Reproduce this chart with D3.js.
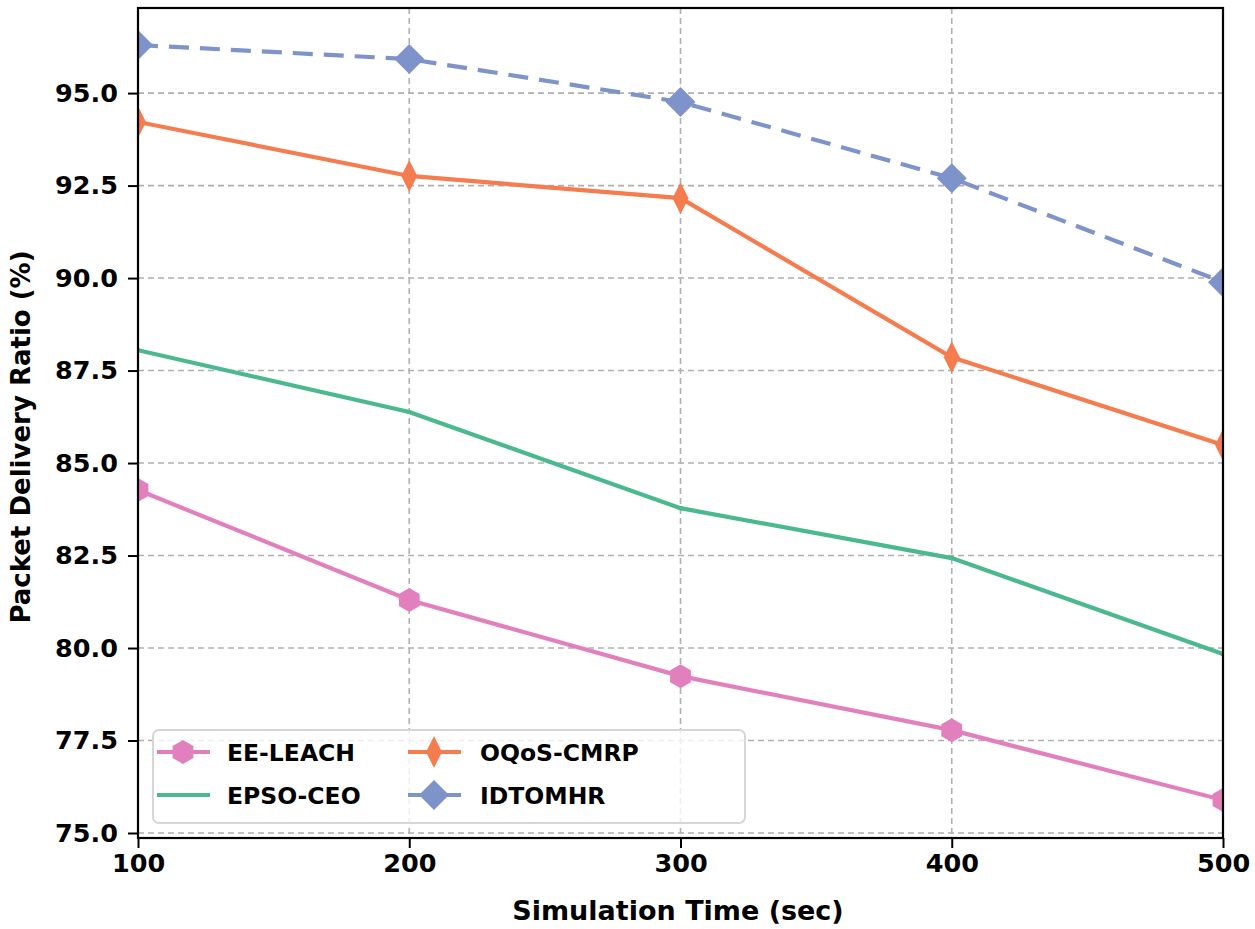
<!DOCTYPE html>
<html><head><meta charset="utf-8">
<script src="https://cdn.jsdelivr.net/npm/d3@7"></script>
<style>body{margin:0;background:#fff;}svg{display:block;font-family:"DejaVu Sans",sans-serif;font-weight:bold;}</style>
</head><body><svg id="c" width="1255" height="929"></svg>
<script>
const xValues = [100, 200, 300, 400, 500];
const eeLeach = [84.27, 81.30, 79.24, 77.78, 75.89];
const epsoCeo = [88.05, 86.38, 83.78, 82.43, 79.84];
const oqosCmrp = [94.22, 92.76, 92.16, 87.86, 85.49];
const idtomhr = [96.30, 95.92, 94.76, 92.70, 89.89];
const xTicks = [100, 200, 300, 400, 500];
const yTicks = [75.0, 77.5, 80.0, 82.5, 85.0, 87.5, 90.0, 92.5, 95.0];
const seriesNames = ["EE-LEACH", "EPSO-CEO", "OQoS-CMRP", "IDTOMHR"];

const series = [
  {name: seriesNames[0], vals: eeLeach, color: "#e280bd", marker: "hex", dash: null},
  {name: seriesNames[1], vals: epsoCeo, color: "#4bb98f", marker: "pixel", dash: null},
  {name: seriesNames[2], vals: oqosCmrp, color: "#f47c4e", marker: "thin", dash: null},
  {name: seriesNames[3], vals: idtomhr, color: "#7d93c9", marker: "diamond", dash: "20,11"}
];

const L = 138, R = 1223, T = 8, B = 838;
const svg = d3.select("#c");
const x = d3.scaleLinear().domain([100, 500]).range([L, R]);
const y = d3.scaleLinear().domain([74.865, 97.30]).range([B, T]);

// grid
const g = svg.append("g");
g.selectAll(".gx").data(xTicks).join("line")
  .attr("x1", d => x(d)).attr("x2", d => x(d)).attr("y1", T).attr("y2", B)
  .attr("stroke", "#b0b0b0").attr("stroke-width", 1.6).attr("stroke-dasharray", "6,4");
g.selectAll(".gy").data(yTicks).join("line")
  .attr("y1", d => y(d)).attr("y2", d => y(d)).attr("x1", L).attr("x2", R)
  .attr("stroke", "#b0b0b0").attr("stroke-width", 1.6).attr("stroke-dasharray", "6,4");

svg.append("clipPath").attr("id", "clip").append("rect")
  .attr("x", L).attr("y", T).attr("width", R - L).attr("height", B - T);

function markerPath(type) {
  if (type === "hex") {
    const r = 12, pts = [];
    for (let i = 0; i < 6; i++) { const a = Math.PI / 2 + i * Math.PI / 3; pts.push([r * Math.cos(a), r * Math.sin(a)]); }
    return "M" + pts.map(p => p.join(",")).join("L") + "Z";
  }
  if (type === "thin") return "M0,-16L8,0L0,16L-8,0Z";
  if (type === "diamond") return "M0,-15L15,0L0,15L-15,0Z";
  if (type === "pixel") return "M-2,-2L2,-2L2,2L-2,2Z";
  return "";
}

const plot = svg.append("g").attr("clip-path", "url(#clip)");
const line = d3.line().x((d, i) => x(xValues[i])).y(d => y(d));
series.forEach(s => {
  plot.append("path").attr("d", line(s.vals)).attr("fill", "none")
    .attr("stroke", s.color).attr("stroke-width", 4.2)
    .attr("stroke-dasharray", s.dash);
  plot.selectAll(null).data(s.vals).join("path")
    .attr("transform", (d, i) => `translate(${x(xValues[i])},${y(d)})`)
    .attr("d", markerPath(s.marker)).attr("fill", s.color);
});

// axes
const xAxis = svg.append("g").attr("transform", `translate(0,${B})`)
  .call(d3.axisBottom(x).tickValues(xTicks).tickSize(10).tickPadding(6).tickFormat(d3.format("d")));
const yAxis = svg.append("g").attr("transform", `translate(${L},0)`)
  .call(d3.axisLeft(y).tickValues(yTicks).tickSize(10).tickPadding(10).tickFormat(d3.format(".1f")));
[xAxis, yAxis].forEach(a => {
  a.select(".domain").remove();
  a.selectAll(".tick line").attr("stroke", "#000").attr("stroke-width", 2);
  a.selectAll("text").attr("font-size", 25.5).attr("font-weight", "bold")
    .attr("font-family", "DejaVu Sans").attr("fill", "#000");
});
svg.append("rect").attr("x", L).attr("y", T).attr("width", R - L).attr("height", B - T)
  .attr("fill", "none").attr("stroke", "#000").attr("stroke-width", 2.2);

svg.append("text").attr("x", 678).attr("y", 920).attr("text-anchor", "middle")
  .attr("font-size", 27).text("Simulation Time (sec)");
svg.append("text").attr("transform", `translate(30,437) rotate(-90)`)
  .attr("text-anchor", "middle").attr("font-size", 26).text("Packet Delivery Ratio (%)");

// legend
const lg = svg.append("g");
lg.append("rect").attr("x", 153).attr("y", 730).attr("width", 592).attr("height", 93)
  .attr("rx", 6).attr("fill", "rgba(255,255,255,0.8)").attr("stroke", "#d6d6d6").attr("stroke-width", 2);
const pos = [[157, 752], [157, 795], [408, 752], [408, 795]];
series.forEach((s, i) => {
  const [lx, ly] = pos[i];
  lg.append("line").attr("x1", lx).attr("x2", lx + 53).attr("y1", ly).attr("y2", ly)
    .attr("stroke", s.color).attr("stroke-width", 4.2);
  if (s.marker !== "pixel")
    lg.append("path").attr("transform", `translate(${lx + 26},${ly})`).attr("d", markerPath(s.marker)).attr("fill", s.color);
  lg.append("text").attr("x", lx + 70 + (i >= 2 ? 2 : 0)).attr("y", ly + 9).attr("font-size", 23.5).text(s.name);
});
</script></body></html>
